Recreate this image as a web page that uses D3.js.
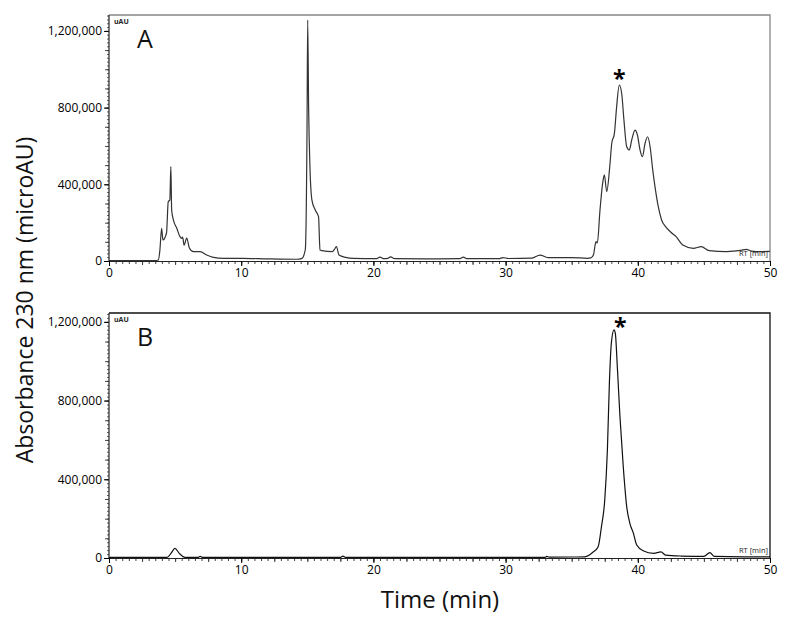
<!DOCTYPE html>
<html>
<head>
<meta charset="utf-8">
<script src="https://cdn.jsdelivr.net/npm/d3@7"></script>
<style>
  body { margin: 0; background: #fff; }
  svg { font-family: "Open Sans", sans-serif; }
</style>
</head>
<body>
<div id="diagram"></div>
<script>
// chromatogram traces, [time (min), absorbance (uAU)]
const traceA = [
  [0, 2000], [3.5, 2000], [3.73, 5000], [3.85, 57000], [3.98, 170000], [4.08, 110000],
  [4.35, 146000], [4.48, 309000], [4.6, 318000], [4.68, 492000], [4.74, 266000],
  [4.87, 214000], [5.12, 172000], [5.37, 127000], [5.5, 118000], [5.57, 125000],
  [5.68, 83000], [5.88, 120000], [6.08, 68000], [6.38, 49000], [6.89, 49000],
  [7.39, 31000], [7.9, 19000], [8.66, 14000], [10.1, 14000], [12, 11000], [14.2, 9000],
  [14.6, 14000], [14.85, 60000], [14.98, 700000], [15.03, 1257000], [15.1, 800000],
  [15.2, 492000], [15.35, 318000], [15.6, 266000], [15.85, 231000], [15.96, 57000],
  [16.1, 54000], [16.9, 49000], [17.05, 60000], [17.2, 75000], [17.4, 31000],
  [17.9, 19000], [18.5, 14000], [20.2, 12000], [20.5, 20000], [20.8, 12000],
  [21.1, 14000], [21.3, 22000], [21.6, 12000], [24, 11000], [26.5, 12000],
  [26.8, 20000], [27.1, 12000], [29.5, 12000], [29.8, 18000], [30.2, 13000],
  [32, 15000], [32.6, 31000], [33.2, 18000], [35, 18000], [36.2, 14000],
  [36.45, 16000], [36.64, 31000], [36.84, 101000], [36.94, 94000], [37.14, 266000],
  [37.34, 405000], [37.47, 449000], [37.65, 362000], [37.9, 510000], [38.03, 614000],
  [38.23, 666000], [38.4, 805000], [38.6, 918000], [38.78, 875000], [38.95, 736000],
  [39.16, 596000], [39.36, 579000], [39.54, 631000], [39.79, 683000], [39.97, 657000],
  [40.17, 579000], [40.35, 544000], [40.55, 614000], [40.74, 648000], [40.93, 596000],
  [41.13, 475000], [41.3, 388000], [41.55, 283000], [41.8, 214000], [42.1, 179000],
  [42.5, 150000], [42.9, 127000], [43.4, 83000], [44.2, 66000], [44.8, 75000],
  [45.4, 54000], [46.7, 49000], [47.8, 55000], [48.2, 61000], [48.6, 52000],
  [49.3, 49000], [50, 50000]
];

const traceB = [
  [0, 3000], [4.4, 3000], [4.7, 25000], [4.99, 49000], [5.3, 25000], [5.75, 3000],
  [6.7, 3000], [6.9, 8000], [7.1, 3000], [17.5, 3000], [17.7, 10000], [17.9, 3000],
  [33, 3000], [33.1, 8000], [33.3, 4000], [35.1, 5000], [36, 6000], [36.6, 29000],
  [37.0, 57000], [37.25, 159000], [37.5, 295000], [37.7, 549000], [37.85, 888000],
  [38.0, 1092000], [38.2, 1159000], [38.3, 1142000], [38.45, 973000], [38.65, 719000],
  [38.9, 465000], [39.16, 261000], [39.4, 176000], [39.67, 125000], [39.92, 66000],
  [40.4, 37000], [41.2, 24000], [41.75, 31000], [42.1, 15000], [43.3, 10000],
  [45.0, 8000], [45.45, 27000], [45.8, 8000], [48, 6000], [50, 6000]
];

const panelLabels = ['A', 'B'];
const xTicks = [0, 10, 20, 30, 40, 50];
const yTicks = [0, 400000, 800000, 1200000];
const yTopA = 1283000;   // axis top value, panel A
const yTopB = 1245000;   // axis top value, panel B
const starTimes = [38.6, 38.3];

const width = 800, height = 628;
const x0 = 109, x1 = 770;

const svg = d3.select('#diagram').append('svg')
  .attr('width', width)
  .attr('height', height);

const panels = [
  { trace: traceA, top: 15, bottom: 261, yTop: yTopA, label: panelLabels[0], star: starTimes[0], frame: '#888', line: '#333' },
  { trace: traceB, top: 313, bottom: 558, yTop: yTopB, label: panelLabels[1], star: starTimes[1], frame: '#111', line: '#111' }
];

panels.forEach(function (p) {
  const x = d3.scaleLinear().domain([0, 50]).range([x0, x1]);
  const y = d3.scaleLinear().domain([0, p.yTop]).range([p.bottom, p.top]);
  const g = svg.append('g');

  // top + right frame
  g.append('path')
    .attr('d', 'M' + x0 + ',' + p.top + 'H' + x1 + 'V' + p.bottom)
    .attr('fill', 'none')
    .attr('stroke', p.frame)
    .attr('stroke-width', 1.3);

  // minor ticks x
  g.append('g')
    .attr('transform', 'translate(0,' + p.bottom + ')')
    .call(d3.axisBottom(x).tickValues(d3.range(0, 50.01, 0.5)).tickSize(3).tickFormat('').tickSizeOuter(0))
    .call(function (a) { a.select('.domain').remove(); })
    .selectAll('line').attr('stroke', '#444');

  g.append('g')
    .attr('transform', 'translate(0,' + p.bottom + ')')
    .call(d3.axisBottom(x).tickValues(d3.range(0, 50.01, 2.5)).tickSize(4).tickFormat('').tickSizeOuter(0))
    .call(function (a) { a.select('.domain').remove(); })
    .selectAll('line').attr('stroke', '#444');

  // major ticks + labels x
  const xa = g.append('g')
    .attr('transform', 'translate(0,' + p.bottom + ')')
    .call(d3.axisBottom(x).tickValues(xTicks).tickSize(5).tickPadding(2).tickSizeOuter(0));
  xa.select('.domain').attr('stroke', '#222').attr('stroke-width', 1.2);
  xa.selectAll('text').attr('font-size', 12).attr('fill', '#000').attr('font-family', '"Open Sans", sans-serif');

  // y ticks
  g.append('g')
    .attr('transform', 'translate(' + x0 + ',0)')
    .call(d3.axisLeft(y).tickValues(d3.range(0, p.yTop, 20000)).tickSize(2).tickFormat('').tickSizeOuter(0))
    .call(function (a) { a.select('.domain').remove(); })
    .selectAll('line').attr('stroke', '#666');

  g.append('g')
    .attr('transform', 'translate(' + x0 + ',0)')
    .call(d3.axisLeft(y).tickValues(d3.range(0, p.yTop, 100000)).tickSize(4).tickFormat('').tickSizeOuter(0))
    .call(function (a) { a.select('.domain').remove(); })
    .selectAll('line').attr('stroke', '#444');

  const ya = g.append('g')
    .attr('transform', 'translate(' + x0 + ',0)')
    .call(d3.axisLeft(y).tickValues(yTicks).tickSize(5).tickPadding(2).tickFormat(d3.format(',')).tickSizeOuter(0));
  ya.select('.domain').remove();
  ya.selectAll('text').attr('font-size', 12).attr('fill', '#000').attr('font-family', '"Open Sans", sans-serif');

  g.append('line')
    .attr('x1', x0).attr('x2', x0)
    .attr('y1', p.top).attr('y2', p.bottom)
    .attr('stroke', '#222').attr('stroke-width', 1.2);

  // trace
  const line = d3.line()
    .x(function (d) { return x(d[0]); })
    .y(function (d) { return y(d[1]); })
    .curve(d3.curveMonotoneX);

  g.append('path')
    .datum(p.trace)
    .attr('d', line)
    .attr('fill', 'none')
    .attr('stroke', p.line)
    .attr('stroke-width', 1.2);

  // small labels
  g.append('text')
    .attr('x', x0 + 5).attr('y', p.top + 9)
    .attr('font-size', 7).attr('font-weight', 'bold').attr('fill', '#222')
    .text('uAU');

  g.append('text')
    .attr('x', x1 - 2).attr('y', p.bottom - 5)
    .attr('text-anchor', 'end')
    .attr('font-size', 7.5).attr('fill', '#222')
    .text('RT [min]');

  g.append('text')
    .attr('x', 137).attr('y', p.top + 33)
    .attr('font-size', 25).attr('fill', '#111')
    .text(p.label);

  // asterisk over main peak
  const peak = d3.max(p.trace, function (d) { return Math.abs(d[0] - p.star) < 0.01 ? d[1] : 0; });
  g.append('text')
    .attr('x', x(p.star) + (p.label === 'B' ? 5 : 0)).attr('y', y(peak) + 4)
    .attr('text-anchor', 'middle')
    .attr('font-size', 23).attr('font-weight', 'bold').attr('fill', '#000')
    .attr('dy', '-0.1em')
    .text('*');
});

// axis titles
svg.append('text')
  .attr('transform', 'translate(33,300) rotate(-90)')
  .attr('text-anchor', 'middle')
  .attr('font-size', 23).attr('fill', '#111')
  .text('Absorbance 230 nm (microAU)');

svg.append('text')
  .attr('x', 440).attr('y', 608)
  .attr('text-anchor', 'middle')
  .attr('font-size', 24).attr('fill', '#111')
  .text('Time (min)');
</script>
</body>
</html>
